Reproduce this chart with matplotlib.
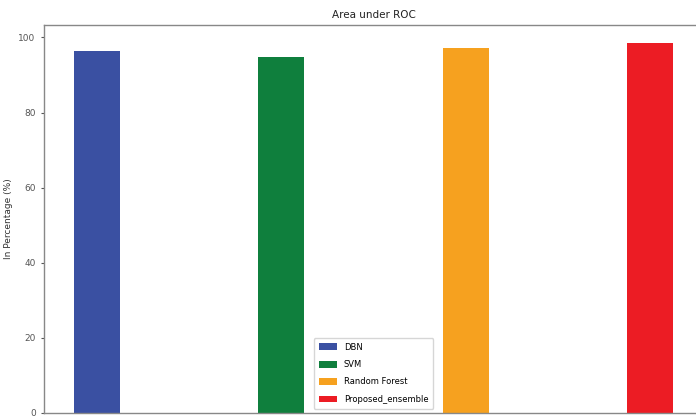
import matplotlib
matplotlib.use("Agg")
import matplotlib.pyplot as plt

models = ["DBN", "SVM", "Random Forest", "Proposed_ensemble"]
auc_values = [96.3, 94.7, 97.1, 98.4]
bar_colors = ["#3a50a2", "#0f7f3d", "#f6a11f", "#ec1c24"]

W, H = 696, 416
fig = plt.figure(figsize=(W / 100, H / 100), dpi=100)
# axes frame extends slightly past the right and bottom edges of the canvas
ax = fig.add_axes([44 / W, 3 / H, (703 - 44) / W, (413 - 25) / H])

for i, (name, val, col) in enumerate(zip(models, auc_values, bar_colors)):
    ax.bar(i, val, width=0.25, color=col, label=name)

ax.set_xticks([])
ax.set_yticks([0, 20, 40, 60, 80, 100])
ax.tick_params(axis="y", labelsize=6.5, colors="#555555", length=2.5)
ax.set_ylabel("In Percentage (%)", fontsize=6.5, color="#333333")
ax.set_title("Area under ROC", fontsize=7.5, color="#222222", pad=5)
for s in ax.spines.values():
    s.set_color("#888888")
    s.set_linewidth(1.0)

ax.legend(loc="lower center", fontsize=6, frameon=True, edgecolor="#cccccc",
          handlelength=2.2, handleheight=0.9, borderpad=0.6, labelspacing=1.0)

fig.savefig("out.png", dpi=100)
